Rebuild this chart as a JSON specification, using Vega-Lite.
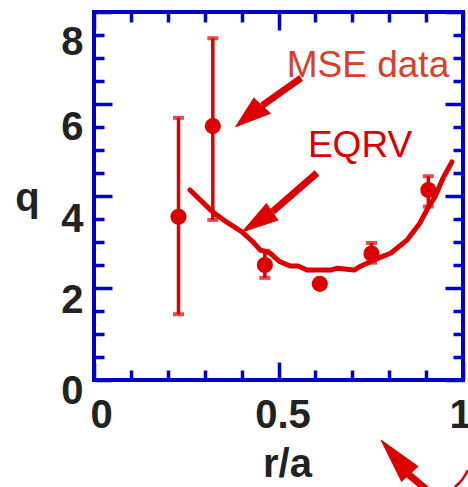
{
  "$schema": "https://vega.github.io/schema/vega-lite/v6.json",
  "width": 369,
  "height": 368,
  "autosize": "none",
  "padding": {"left": 94, "top": 12, "right": 5, "bottom": 107},
  "background": "white",
  "config": {
    "view": {"stroke": "#0000CC", "strokeWidth": 4},
    "axis": {
      "domain": false,
      "grid": false,
      "tickColor": "#0000CC",
      "tickWidth": 3.5,
      "labelFont": "Liberation Sans",
      "labelFontWeight": "bold",
      "labelFontSize": 40,
      "labelColor": "#222222",
      "titleFont": "Liberation Sans",
      "titleFontWeight": "bold",
      "titleFontSize": 40,
      "titleColor": "#222222",
      "labelOverlap": false,
      "labelFlush": false,
      "labelBound": false
    }
  },
  "datasets": {
    "mse": [
      {"r": 0.229, "q": 3.55, "lo": 1.43, "hi": 5.70},
      {"r": 0.322, "q": 5.52, "lo": 3.48, "hi": 7.43},
      {"r": 0.463, "q": 2.50, "lo": 2.22, "hi": 2.81},
      {"r": 0.612, "q": 2.09, "lo": 2.00, "hi": 2.18},
      {"r": 0.752, "q": 2.75, "lo": 2.55, "hi": 2.98},
      {"r": 0.906, "q": 4.13, "lo": 3.77, "hi": 4.43}
    ],
    "eqrv": [
      {"r": 0.260, "q": 4.13},
      {"r": 0.322, "q": 3.65},
      {"r": 0.360, "q": 3.43},
      {"r": 0.401, "q": 3.22},
      {"r": 0.431, "q": 3.00},
      {"r": 0.450, "q": 2.83},
      {"r": 0.477, "q": 2.76},
      {"r": 0.504, "q": 2.57},
      {"r": 0.531, "q": 2.48},
      {"r": 0.553, "q": 2.48},
      {"r": 0.577, "q": 2.39},
      {"r": 0.604, "q": 2.39},
      {"r": 0.642, "q": 2.39},
      {"r": 0.659, "q": 2.43},
      {"r": 0.705, "q": 2.39},
      {"r": 0.724, "q": 2.48},
      {"r": 0.759, "q": 2.61},
      {"r": 0.805, "q": 2.76},
      {"r": 0.848, "q": 3.04},
      {"r": 0.883, "q": 3.41},
      {"r": 0.905, "q": 3.74},
      {"r": 0.924, "q": 3.98},
      {"r": 0.946, "q": 4.39},
      {"r": 0.970, "q": 4.74}
    ],
    "labels": [
      {"text": "MSE data", "r": 0.7425, "q": 6.587, "tone": "mse"},
      {"text": "EQRV", "r": 0.7209, "q": 4.848, "tone": "eqrv"}
    ],
    "shafts": [
      {"id": "mse", "r": 0.561, "q": 6.565, "r2": 0.456, "q2": 5.967},
      {"id": "eqrv", "r": 0.6043, "q": 4.5, "r2": 0.4837, "q2": 3.659},
      {"id": "low", "r": 0.951, "q": -2.717, "r2": 0.851, "q2": -2.043}
    ],
    "heads": [
      {"id": "mse", "k": 1, "r": 0.4336, "q": 6.137},
      {"id": "mse", "k": 2, "r": 0.384, "q": 5.507},
      {"id": "mse", "k": 3, "r": 0.4789, "q": 5.798},
      {"id": "eqrv", "k": 1, "r": 0.468, "q": 3.841},
      {"id": "eqrv", "k": 2, "r": 0.4011, "q": 3.217},
      {"id": "eqrv", "k": 3, "r": 0.4995, "q": 3.478},
      {"id": "low", "k": 1, "r": 0.834, "q": -2.211},
      {"id": "low", "k": 2, "r": 0.7778, "q": -1.304},
      {"id": "low", "k": 3, "r": 0.879, "q": -1.885}
    ],
    "arc": [
      {"r": 1.0136, "q": -1.957},
      {"r": 0.997, "q": -2.174},
      {"r": 0.978, "q": -2.326}
    ]
  },
  "layer": [
    {
      "data": {"name": "mse"},
      "mark": {"type": "rule", "color": "#DD0000", "strokeWidth": 3.5},
      "encoding": {
        "x": {
          "field": "r", "type": "quantitative",
          "scale": {"domain": [0, 1], "nice": false, "zero": false},
          "axis": {
            "orient": "bottom",
            "values": [0, 0.1, 0.2, 0.3, 0.4, 0.5, 0.6, 0.7, 0.8, 0.9, 1],
            "tickSize": {"condition": {"test": "datum.value == 0 || datum.value == 0.5 || datum.value == 1", "value": -18}, "value": -10},
            "labelExpr": "datum.value == 0 ? '0' : datum.value == 0.5 ? '0.5' : datum.value == 1 ? '1' : ''",
            "labelPadding": 33,
            "labelOffset": {"condition": [{"test": "datum.value == 0", "value": 7}, {"test": "datum.value == 1", "value": -3}], "value": 4},
            "title": "r/a",
            "titleX": 193,
            "titleY": 96,
            "titleAlign": "center",
            "titleBaseline": "alphabetic"
          }
        },
        "y": {
          "field": "lo", "type": "quantitative",
          "scale": {"domain": [0, 8], "nice": false, "zero": false},
          "axis": {
            "orient": "left",
            "values": [0, 0.5, 1, 1.5, 2, 2.5, 3, 3.5, 4, 4.5, 5, 5.5, 6, 6.5, 7, 7.5, 8],
            "tickSize": {"condition": {"test": "datum.value % 2 == 0", "value": -18}, "value": -10},
            "labelExpr": "datum.value % 2 == 0 ? format(datum.value, 'd') : ''",
            "labelPadding": 29,
            "labelOffset": {"condition": [{"test": "datum.value == 8", "value": 30}, {"test": "datum.value == 6", "value": 23}, {"test": "datum.value == 4", "value": 23}, {"test": "datum.value == 2", "value": 12}], "value": 11},
            "title": "q",
            "titleAngle": 0,
            "titleX": -67,
            "titleY": 198,
            "titleAlign": "center",
            "titleBaseline": "alphabetic"
          }
        },
        "y2": {"field": "hi"}
      }
    },
    {
      "data": {"name": "mse"},
      "transform": [{"fold": ["lo", "hi"], "as": ["end", "value"]}],
      "mark": {"type": "tick", "orient": "horizontal", "color": "#DD0000", "size": 11, "thickness": 4},
      "encoding": {
        "x": {
          "field": "r", "type": "quantitative",
          "scale": {"domain": [0, 1], "nice": false, "zero": false},
          "axis": {
            "orient": "top",
            "values": [0, 0.1, 0.2, 0.3, 0.4, 0.5, 0.6, 0.7, 0.8, 0.9, 1],
            "tickSize": {"condition": {"test": "datum.value == 0 || datum.value == 0.5 || datum.value == 1", "value": -18}, "value": -10},
            "labels": false,
            "title": null
          }
        },
        "y": {
          "field": "value", "type": "quantitative",
          "scale": {"domain": [0, 8], "nice": false, "zero": false},
          "axis": {
            "orient": "right",
            "values": [0, 0.5, 1, 1.5, 2, 2.5, 3, 3.5, 4, 4.5, 5, 5.5, 6, 6.5, 7, 7.5, 8],
            "tickSize": {"condition": {"test": "datum.value % 2 == 0", "value": -18}, "value": -10},
            "labels": false,
            "title": null
          }
        }
      }
    },
    {
      "data": {"name": "eqrv"},
      "mark": {"type": "line", "color": "#DD0000", "strokeWidth": 5, "strokeJoin": "round", "strokeCap": "round"},
      "encoding": {
        "x": {"field": "r", "type": "quantitative", "scale": {"domain": [0, 1], "nice": false, "zero": false}, "axis": null},
        "y": {"field": "q", "type": "quantitative", "scale": {"domain": [0, 8], "nice": false, "zero": false}, "axis": null}
      }
    },
    {
      "data": {"name": "mse"},
      "mark": {"type": "circle", "color": "#DD0000", "size": 260, "opacity": 1},
      "encoding": {
        "x": {"field": "r", "type": "quantitative", "scale": {"domain": [0, 1], "nice": false, "zero": false}, "axis": null},
        "y": {"field": "q", "type": "quantitative", "scale": {"domain": [0, 8], "nice": false, "zero": false}, "axis": null}
      }
    },
    {
      "data": {"name": "labels"},
      "mark": {"type": "text", "font": "Liberation Sans", "fontSize": 37, "align": "center", "baseline": "alphabetic"},
      "encoding": {
        "x": {"field": "r", "type": "quantitative", "scale": {"domain": [0, 1], "nice": false, "zero": false}, "axis": null},
        "y": {"field": "q", "type": "quantitative", "scale": {"domain": [0, 8], "nice": false, "zero": false}, "axis": null},
        "text": {"field": "text"},
        "color": {"field": "tone", "type": "nominal", "scale": {"domain": ["mse", "eqrv"], "range": ["#D8402C", "#DD0000"]}, "legend": null}
      }
    },
    {
      "data": {"name": "shafts"},
      "mark": {"type": "rule", "color": "#DD0000", "strokeWidth": 7},
      "encoding": {
        "x": {"field": "r", "type": "quantitative", "scale": {"domain": [0, 1], "nice": false, "zero": false}, "axis": null},
        "y": {"field": "q", "type": "quantitative", "scale": {"domain": [0, 8], "nice": false, "zero": false}, "axis": null},
        "x2": {"field": "r2"},
        "y2": {"field": "q2"}
      }
    },
    {
      "data": {"name": "heads"},
      "mark": {"type": "line", "color": "#DD0000", "fill": "#DD0000", "strokeWidth": 1, "strokeJoin": "miter"},
      "encoding": {
        "x": {"field": "r", "type": "quantitative", "scale": {"domain": [0, 1], "nice": false, "zero": false}, "axis": null},
        "y": {"field": "q", "type": "quantitative", "scale": {"domain": [0, 8], "nice": false, "zero": false}, "axis": null},
        "detail": {"field": "id"},
        "order": {"field": "k"}
      }
    },
    {
      "data": {"name": "arc"},
      "mark": {"type": "line", "color": "#DD0000", "strokeWidth": 2.5, "interpolate": "monotone"},
      "encoding": {
        "x": {"field": "r", "type": "quantitative", "scale": {"domain": [0, 1], "nice": false, "zero": false}, "axis": null},
        "y": {"field": "q", "type": "quantitative", "scale": {"domain": [0, 8], "nice": false, "zero": false}, "axis": null}
      }
    }
  ],
  "resolve": {"axis": {"x": "independent", "y": "independent"}}
}
